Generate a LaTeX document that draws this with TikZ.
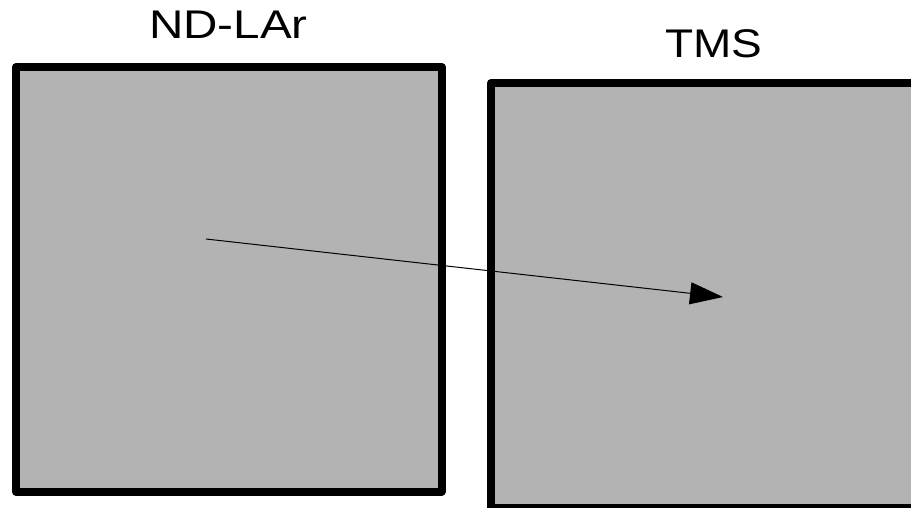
\documentclass[tikz,border=0pt]{standalone}
\usepackage{fontspec}
\setmainfont{Liberation Sans}
\usetikzlibrary{arrows.meta}
\definecolor{boxgray}{RGB}{179,179,179}
\tikzset{
  detbox/.style={draw=black, fill=boxgray, line width=8pt, line join=round, inner sep=0pt, minimum width=#1},
  lbl/.style={anchor=base, inner sep=0pt, font=\fontsize{40}{40}\selectfont},
  track/.style={line width=1pt, -{Triangle[length=33pt,width=22pt]}}
}
\begin{document}
\begin{tikzpicture}[x=1pt,y=-1pt]
\useasboundingbox (0,0) rectangle (911,508);
\clip (0,0) rectangle (911,508);
\node[detbox=425.5pt, minimum height=424.5pt] (ndlar) at (228.75,279.25) {};
\node[detbox=425pt, minimum height=425pt] (tms) at (703.5,295.5) {};
\node[lbl] (ndlabel) at (228.5,39) {\scalebox{1.19}[1]{ND-LAr}};
\node[lbl] (tmslabel) at (714,58) {\scalebox{1.15}[1]{TMS}};
\coordinate (start) at (206,239);
\coordinate (stop) at (723,297);
\draw[track] (start) -- (stop);
\end{tikzpicture}
\end{document}
